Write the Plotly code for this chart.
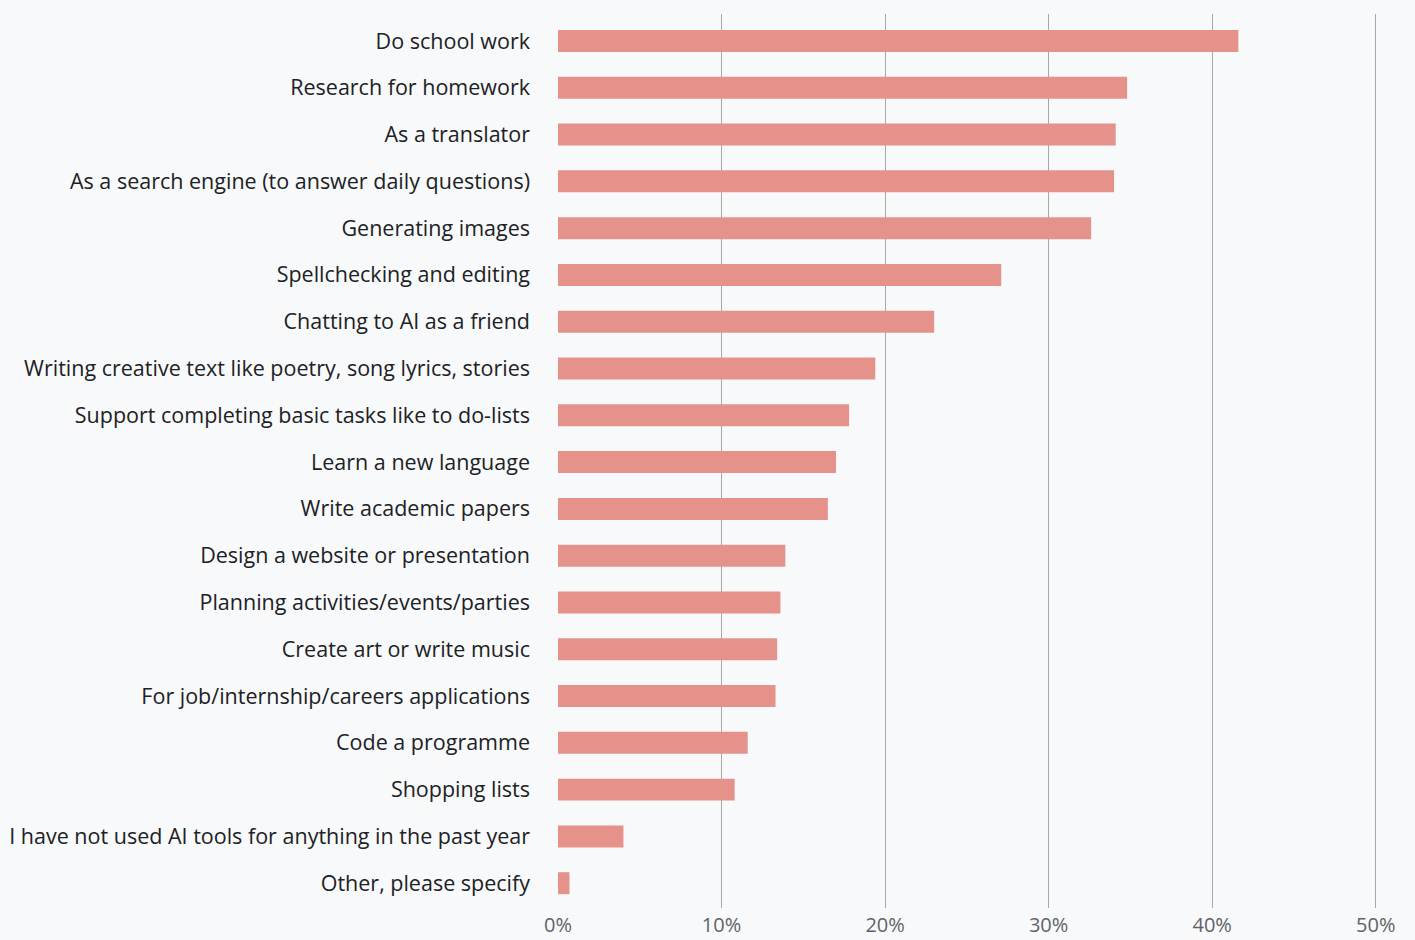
import plotly.graph_objects as go

categories = [
    "Do school work",
    "Research for homework",
    "As a translator",
    "As a search engine (to answer daily questions)",
    "Generating images",
    "Spellchecking and editing",
    "Chatting to AI as a friend",
    "Writing creative text like poetry, song lyrics, stories",
    "Support completing basic tasks like to do-lists",
    "Learn a new language",
    "Write academic papers",
    "Design a website or presentation",
    "Planning activities/events/parties",
    "Create art or write music",
    "For job/internship/careers applications",
    "Code a programme",
    "Shopping lists",
    "I have not used AI tools for anything in the past year",
    "Other, please specify",
]
values = [41.6, 34.8, 34.1, 34.0, 32.6, 27.1, 23.0, 19.4, 17.8, 17.0, 16.5,
          13.9, 13.6, 13.4, 13.3, 11.6, 10.8, 4.0, 0.7]
tick_vals = [0, 10, 20, 30, 40, 50]
tick_text = ["0%", "10%", "20%", "30%", "40%", "50%"]

fig = go.Figure(go.Bar(
    x=values, y=categories, orientation="h",
    marker=dict(color="#e5928a", line=dict(width=0)),
    width=0.47,
))

fig.update_layout(
    width=1415, height=940,
    margin=dict(l=558, r=36, t=14, b=32),
    paper_bgcolor="#f8f9fa", plot_bgcolor="#f8f9fa",
    font=dict(family="Open Sans, sans-serif", size=21.5, color="#202124"),
    showlegend=False,
)
fig.update_xaxes(
    range=[0, 50.2], tickvals=tick_vals, ticktext=tick_text,
    showgrid=True, gridcolor="#a8a8a8", gridwidth=1,
    zeroline=False, showline=False, automargin=False,
    tickfont=dict(size=20, color="#5f6368"),
    ticklabelstandoff=3,
)
fig.update_yaxes(
    categoryorder="array", categoryarray=categories,
    range=[18.53, -0.577],
    showgrid=False, zeroline=False, showline=False, automargin=False,
    ticklabelstandoff=27,
    tickfont=dict(size=21.5, color="#202124"),
)

fig.write_html("out.html")
